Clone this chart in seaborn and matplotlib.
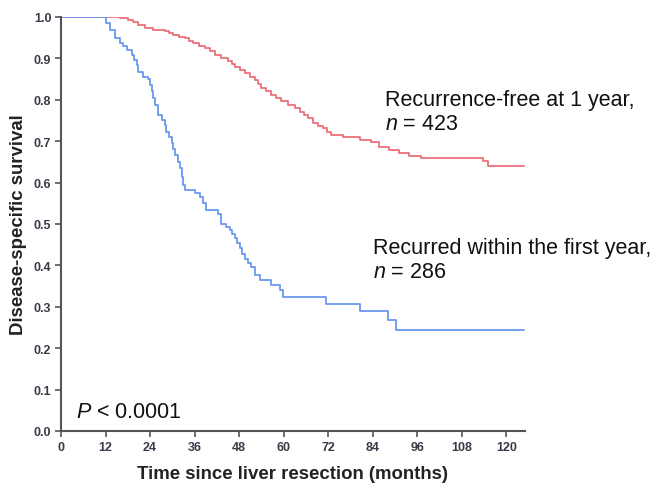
import pandas as pd
import matplotlib
matplotlib.use("Agg")
import matplotlib.pyplot as plt
import seaborn as sns

# step points: (month, survival from that month on)
recurred_time = [0, 12.2, 13.2, 14.5, 15.9, 16.8, 17.7, 19.0, 19.8, 20.4, 20.8, 22.1, 23.5, 24.0,
                 24.6, 24.9, 25.3, 26.2, 27.1, 28.0, 28.4, 29.1, 29.8, 30.3, 30.7, 31.4, 32.0, 32.5,
                 32.9, 33.4, 36.0, 37.4, 38.3, 39.2, 42.3, 43.2, 44.4, 45.5, 46.1, 46.8, 47.5, 48.2,
                 48.9, 49.5, 50.4, 51.3, 52.2, 53.6, 56.7, 58.9, 59.8, 71.5, 80.5, 88.0, 90.4, 124.8]
recurred_surv = [1.0, 0.985, 0.969, 0.949, 0.937, 0.929, 0.921, 0.909, 0.897, 0.885, 0.868, 0.856,
                 0.850, 0.836, 0.820, 0.804, 0.788, 0.763, 0.750, 0.739, 0.723, 0.711, 0.695, 0.681,
                 0.667, 0.650, 0.634, 0.614, 0.594, 0.582, 0.574, 0.566, 0.550, 0.533, 0.525, 0.501,
                 0.493, 0.485, 0.475, 0.465, 0.453, 0.441, 0.428, 0.416, 0.406, 0.396, 0.376, 0.364,
                 0.352, 0.340, 0.324, 0.307, 0.290, 0.267, 0.245, 0.245]

free_time = [0, 16.0, 18.1, 19.5, 20.8, 22.6, 24.8, 28.0, 29.0, 30.2, 31.8, 33.4, 34.5, 35.6, 37.2,
             38.8, 40.1, 41.4, 43.2, 45.0, 46.0, 46.8, 48.2, 49.5, 50.8, 52.2, 53.1, 54.0, 55.3,
             56.7, 58.0, 59.4, 61.2, 63.0, 64.3, 65.5, 66.6, 67.9, 69.2, 70.6, 71.7, 72.8, 76.0,
             80.5, 83.6, 85.8, 88.5, 91.2, 93.9, 97.0, 113.6, 115.0, 124.8]
free_surv = [1.0, 0.997, 0.993, 0.987, 0.981, 0.973, 0.968, 0.966, 0.961, 0.956, 0.952, 0.948, 0.943,
             0.937, 0.931, 0.925, 0.917, 0.909, 0.901, 0.893, 0.886, 0.880, 0.872, 0.864, 0.856,
             0.848, 0.838, 0.828, 0.820, 0.812, 0.804, 0.796, 0.788, 0.780, 0.770, 0.763, 0.757,
             0.743, 0.737, 0.731, 0.723, 0.715, 0.709, 0.703, 0.697, 0.687, 0.679, 0.671, 0.665,
             0.659, 0.652, 0.640, 0.640]

df = pd.concat([
    pd.DataFrame({"time": free_time, "surv": free_surv, "group": "free"}),
    pd.DataFrame({"time": recurred_time, "surv": recurred_surv, "group": "recurred"}),
])

sns.set_style("ticks")
plt.rcParams["font.family"] = ["Liberation Sans", "DejaVu Sans"]
plt.rcParams["mathtext.fontset"] = "custom"
plt.rcParams["mathtext.it"] = "Liberation Sans:italic"
plt.rcParams["mathtext.rm"] = "Liberation Sans"

fig = plt.figure(figsize=(6.52, 4.85), dpi=100)
ax = fig.add_axes([0.0936, 0.1093, 0.7114, 0.8537])

sns.lineplot(data=df, x="time", y="surv", hue="group", estimator=None,
             palette={"free": "#ec6f79", "recurred": "#6a98ee"},
             drawstyle="steps-post", linewidth=1.3, legend=False, ax=ax)

ax.set_xlim(0, 125)
ax.set_ylim(0, 1.0)
ax.set_xticks(range(0, 121, 12))
ax.set_yticks([i / 10 for i in range(11)])
ax.set_yticklabels([f"{i / 10:.1f}" for i in range(11)])
ax.tick_params(axis="both", labelsize=9, colors="#555555", labelcolor="#3a3a48",
               length=4, width=1.2, direction="out", pad=3)
for lab in ax.get_xticklabels() + ax.get_yticklabels():
    lab.set_fontweight("bold")

for side in ["left", "bottom"]:
    ax.spines[side].set_color("#555555")
    ax.spines[side].set_linewidth(1.5)
sns.despine(ax=ax)

ax.set_xlabel("Time since liver resection (months)", fontsize=13.4, fontweight="bold",
              color="#222222", labelpad=9)
ax.set_ylabel("Disease-specific survival", fontsize=13.4, fontweight="bold",
              color="#222222", labelpad=5)

ax.text(87.2, 0.80, "Recurrence-free at 1 year,", fontsize=15.5, color="#111111", va="center")
ax.text(87.2, 0.743, "$\\it{n}$ = 423", fontsize=15.5, color="#111111", va="center")
ax.text(84, 0.443, "Recurred within the first year,", fontsize=15.5, color="#111111", va="center")
ax.text(84, 0.385, "$\\it{n}$ = 286", fontsize=15.5, color="#111111", va="center")
ax.text(4, 0.047, "$\\it{P}$ < 0.0001", fontsize=15.5, color="#111111", va="center")

fig.savefig("out.png", dpi=100)
